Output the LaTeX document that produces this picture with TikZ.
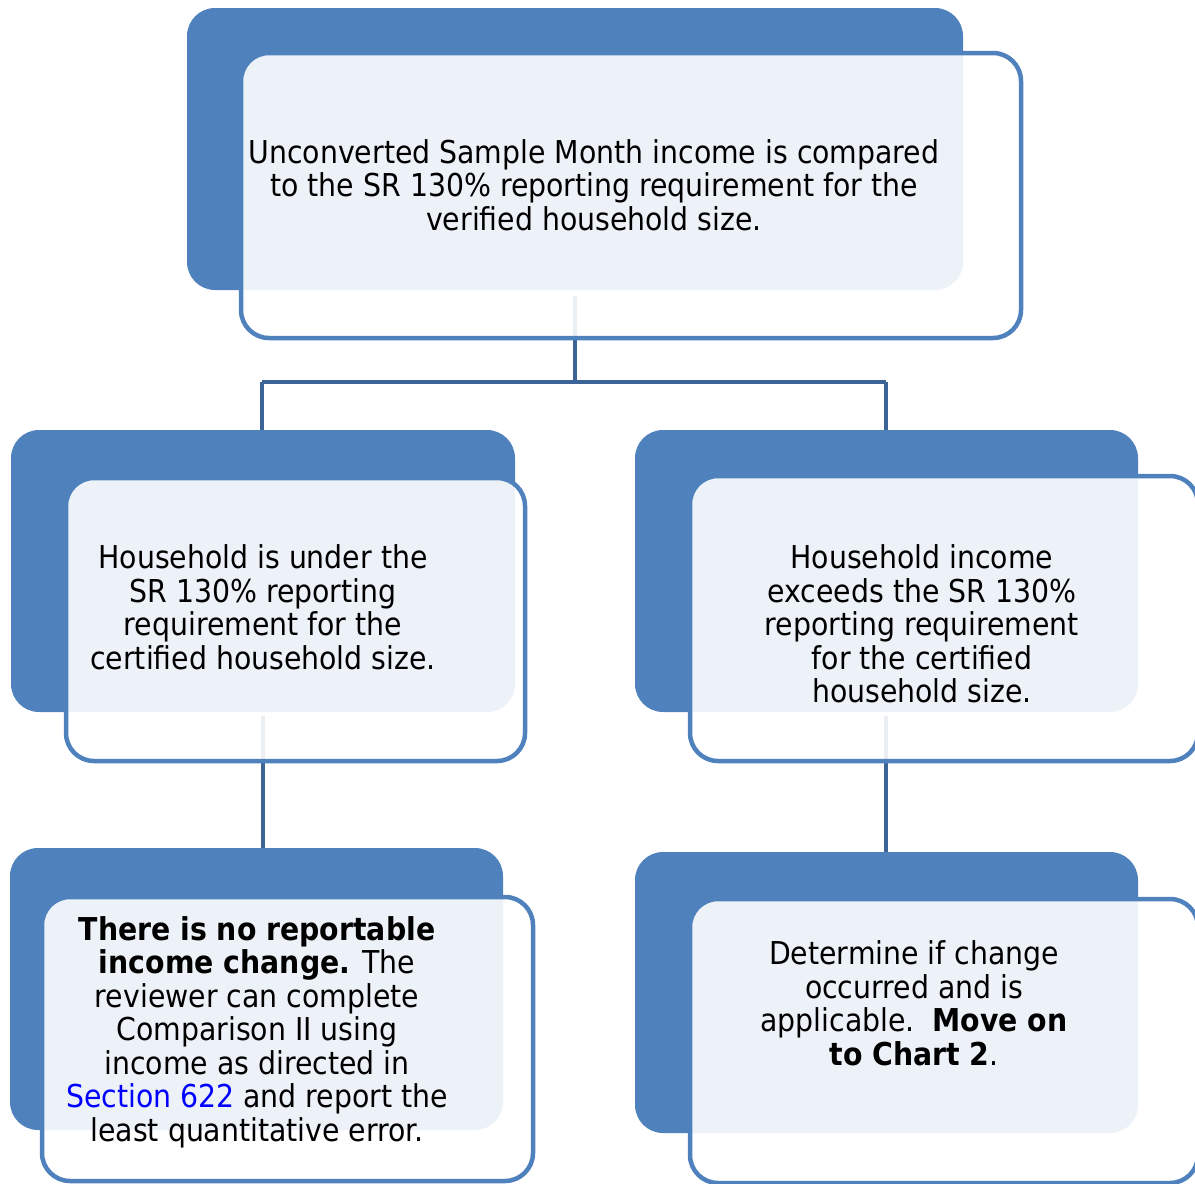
\documentclass[tikz,border=0pt]{standalone}
\usepackage{fontspec}
\setmainfont{DejaVu Sans Condensed}
\definecolor{boxblue}{HTML}{4F81BD}
\definecolor{linkblue}{HTML}{3C6497}
\definecolor{hyper}{HTML}{0000FF}
\begin{document}
\begin{tikzpicture}[x=1pt,y=-1pt,
  back/.style={rectangle,rounded corners=28pt,fill=boxblue,draw=none,inner sep=0pt,outer sep=0pt},
  front/.style={rectangle,rounded corners=28pt,draw=boxblue,line width=4.5pt,fill=white,fill opacity=0.9,draw opacity=1,inner sep=0pt,outer sep=0pt},
  wire/.style={draw=linkblue,line width=4pt},
  label/.style={align=center,inner sep=0pt,font=\fontsize{31.5}{33.5}\selectfont,text=black}]
\useasboundingbox (0,0) rectangle (1195,1184);

% connector anchors
\coordinate (c1) at (575,296);
\coordinate (bus) at (575,382);
\coordinate (busL) at (262,382);
\coordinate (busR) at (886,382);

% connectors sit below the boxes
\draw[wire] (c1) -- (bus);
\draw[wire] (busL) -- (busR);
\draw[wire] (busL) -- (262,430);
\draw[wire] (busR) -- (886,430);
\draw[wire] (263,716) -- (263,848);
\draw[wire] (886,716) -- (886,852);

% back panels
\node[back,minimum width=776pt,minimum height=282pt] (b1) at (575,149) {};
\node[back,minimum width=504pt,minimum height=282pt] (b2) at (263,571) {};
\node[back,minimum width=503pt,minimum height=282pt] (b3) at (886.5,571) {};
\node[back,minimum width=493pt,minimum height=282pt] (b4) at (256.5,989) {};
\node[back,minimum width=503pt,minimum height=281pt] (b5) at (886.5,992.5) {};

% front frames
\node[front,minimum width=780pt,minimum height=285pt] (f1) at (631,195.5) {};
\node[front,minimum width=459pt,minimum height=283pt] (f2) at (295.5,619.5) {};
\node[front,minimum width=508pt,minimum height=285pt] (f3) at (944,618.5) {};
\node[front,minimum width=491pt,minimum height=284pt] (f4) at (287.5,1039) {};
\node[front,minimum width=508pt,minimum height=284pt] (f5) at (944,1041) {};

% texts
\node[label] (t1) at (594,185) {Unconverted Sample Month income is compared\\to the SR 130\% reporting requirement for the\\verified household size.};
\node[label] (t2) at (263,607) {Household is under the\\SR 130\% reporting\\requirement for the\\certified household size.};
\node[label] (t3) at (922,624) {Household income\\exceeds the SR 130\%\\reporting requirement\\for the certified\\household size.};
\node[label] (t4) at (257,1032) {\textbf{There is no reportable}\\\textbf{income change.} The\\reviewer can complete\\Comparison II using\\income as directed in\\\textcolor{hyper}{Section 622} and report the\\least quantitative error.};
\node[label] (t5) at (914,1003) {Determine if change\\occurred and is\\applicable.\ \ \textbf{Move on}\\\textbf{to Chart 2}.};
\end{tikzpicture}
\end{document}
